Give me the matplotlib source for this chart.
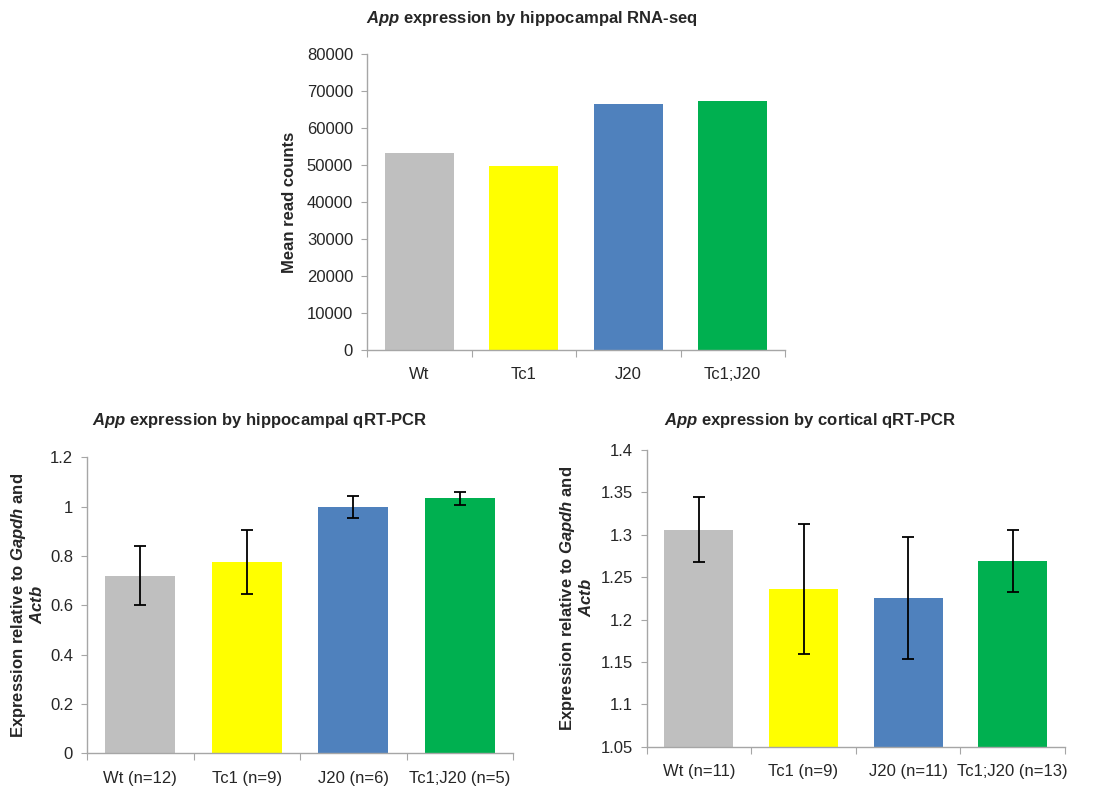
import matplotlib
matplotlib.use("Agg")
import matplotlib.pyplot as plt
import numpy as np

plt.rcParams["font.family"] = ["Liberation Sans", "DejaVu Sans"]
plt.rcParams["mathtext.fontset"] = "custom"
plt.rcParams["mathtext.it"] = "Liberation Sans:italic:bold"
plt.rcParams["mathtext.rm"] = "Liberation Sans:bold"
plt.rcParams["mathtext.bf"] = "Liberation Sans:bold"

# Data
genotypes = ["Wt", "Tc1", "J20", "Tc1;J20"]
bar_colors = ["#BFBFBF", "#FFFF00", "#4F81BD", "#00B050"]

rnaseq_counts = [53300, 49900, 66500, 67300]

hip_labels = ["Wt (n=12)", "Tc1 (n=9)", "J20 (n=6)", "Tc1;J20 (n=5)"]
hip_expr = [0.72, 0.775, 1.0, 1.033]
hip_err = [0.12, 0.13, 0.045, 0.028]

ctx_labels = ["Wt (n=11)", "Tc1 (n=9)", "J20 (n=11)", "Tc1;J20 (n=13)"]
ctx_expr = [1.306, 1.236, 1.225, 1.269]
ctx_err = [0.038, 0.077, 0.072, 0.037]

W, H = 1100, 787
fig = plt.figure(figsize=(W / 100, H / 100), dpi=100)

AXIS_GRAY = "#A6A6A6"
TEXT = "#262626"


def px_axes(left, right, top, bottom):
    return fig.add_axes([left / W, 1 - bottom / H, (right - left) / W, (bottom - top) / H])


def style(ax, labels, ylim, yticks, ytick_fmt):
    n = len(labels)
    ax.set_xlim(-0.5, n - 0.5)
    ax.set_ylim(*ylim)
    for s in ("top", "right"):
        ax.spines[s].set_visible(False)
    for s in ("left", "bottom"):
        ax.spines[s].set_color(AXIS_GRAY)
        ax.spines[s].set_linewidth(1.0)
    ax.set_xticks(np.arange(-0.5, n, 1.0))
    ax.set_xticklabels([])
    ax.set_xticks(np.arange(n), minor=True)
    ax.set_xticklabels(labels, minor=True, fontsize=12, color=TEXT)
    ax.tick_params(axis="x", which="major", length=5, color=AXIS_GRAY, direction="out")
    ax.tick_params(axis="x", which="minor", length=0, pad=12.5)
    ax.set_yticks(yticks)
    ax.set_yticklabels([ytick_fmt(v) for v in yticks], fontsize=12, color=TEXT)
    ax.tick_params(axis="y", length=4, color=AXIS_GRAY, direction="out", pad=6)


x = np.arange(4)
bw = 0.66

# Top: RNA-seq
ax1 = px_axes(367, 785, 54.3, 350)
ax1.bar(x, rnaseq_counts, width=bw, color=bar_colors, zorder=2)
style(ax1, genotypes, (0, 80000), np.arange(0, 80001, 10000), lambda v: f"{int(v)}")
fig.text(532 / W, 1 - 18 / H, r"$App$ expression by hippocampal RNA-seq",
         ha="center", va="center", fontsize=12, fontweight="bold", color=TEXT)
fig.text(290 / W, 1 - 202 / H, "Mean read counts", rotation=90,
         ha="center", va="center", fontsize=12, fontweight="bold", color=TEXT)

err_kw = dict(ecolor="black", elinewidth=1.3, capsize=4, capthick=1.3)

# Bottom left: hippocampal qRT-PCR
ax2 = px_axes(87, 513, 457.3, 753.3)
ax2.bar(x, hip_expr, width=bw, color=bar_colors, yerr=hip_err, error_kw=err_kw, zorder=2)
style(ax2, hip_labels, (0, 1.2), np.round(np.arange(0, 1.21, 0.2), 1),
      lambda v: "0" if v == 0 else ("1" if v == 1 else f"{v:g}"))
fig.text(260 / W, 1 - 420 / H, r"$App$ expression by hippocampal qRT-PCR",
         ha="center", va="center", fontsize=12, fontweight="bold", color=TEXT)
fig.text(27 / W, 1 - 605 / H, "Expression relative to $Gapdh$ and\n$Actb$", rotation=90,
         ha="center", va="center", fontsize=12, fontweight="bold", color=TEXT,
         multialignment="center", linespacing=1.1)

# Bottom right: cortical qRT-PCR
ax3 = px_axes(646.7, 1065, 450, 746.7)
ax3.bar(x, ctx_expr, width=bw, color=bar_colors, yerr=ctx_err, error_kw=err_kw, zorder=2)
style(ax3, ctx_labels, (1.05, 1.4), np.round(np.arange(1.05, 1.401, 0.05), 2),
      lambda v: f"{v:g}")
fig.text(810 / W, 1 - 420 / H, r"$App$ expression by cortical qRT-PCR",
         ha="center", va="center", fontsize=12, fontweight="bold", color=TEXT)
fig.text(576 / W, 1 - 598 / H, "Expression relative to $Gapdh$ and\n$Actb$", rotation=90,
         ha="center", va="center", fontsize=12, fontweight="bold", color=TEXT,
         multialignment="center", linespacing=1.1)

fig.savefig("out.png", dpi=100, facecolor="white")
